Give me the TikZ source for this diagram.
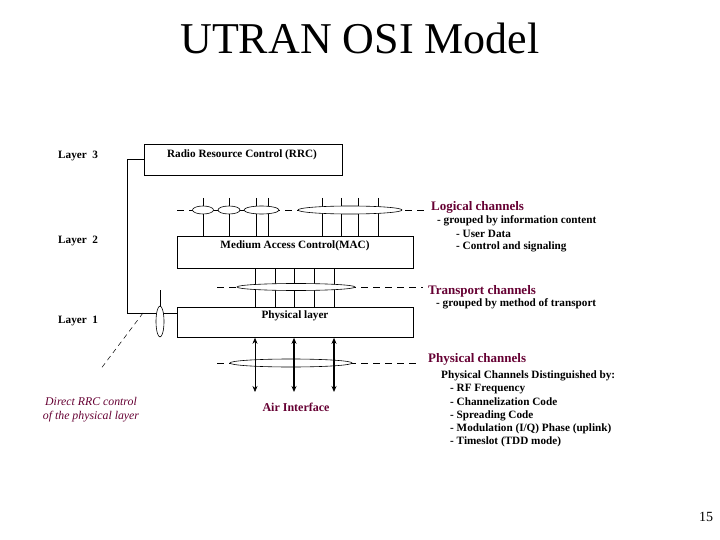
\documentclass[tikz,border=0pt]{standalone}
\usepackage{fontspec}
\setmainfont{Liberation Serif}
\usetikzlibrary{shapes.geometric,arrows.meta}
\definecolor{maroon}{RGB}{102,0,51}
\begin{document}
\begin{tikzpicture}[x=1pt,y=-1pt,
 box/.style={draw, line width=0.8pt, anchor=north west, inner sep=0pt},
 lbl/.style={font=\fontsize{11.2}{12}\selectfont\bfseries, inner sep=0pt, anchor=west},
 head/.style={font=\fontsize{13}{14}\selectfont\bfseries, text=maroon, inner sep=0pt, anchor=west},
 ell/.style={ellipse, draw, fill=white, inner sep=0pt, line width=0.6pt},
 ln/.style={line width=0.8pt},
 dsh/.style={dash pattern=on 7pt off 5pt, line width=0.6pt},
 arr/.style={{Stealth[length=6pt,width=5pt]}-{Stealth[length=6pt,width=5pt]}}]
\useasboundingbox (0,0) rectangle (720,540);
\fill[white] (0,0) rectangle (720,540);

% title
\node[font=\fontsize{44}{50}\selectfont, inner sep=0pt] (title) at (360,38) {UTRAN OSI Model};

% layer labels
\node[lbl] (l3) at (58,156) {Layer\ \ 3};
\node[lbl] (l2) at (58,241) {Layer\ \ 2};
\node[lbl] (l1) at (58,321) {Layer\ \ 1};

% boxes
\node[box, minimum width=198pt, minimum height=31pt] (rrc) at (144,144) {};
\node[lbl, anchor=center] (rrct) at (242,155) {Radio Resource Control (RRC)};
\node[box, minimum width=236pt, minimum height=32pt] (mac) at (177,236) {};
\node[lbl, anchor=center] (mact) at (295,246) {Medium Access Control(MAC)};
\node[box, minimum width=236pt, minimum height=30pt] (phy) at (177,307) {};
\node[lbl, anchor=center] (phyt) at (295,316) {Physical layer};

% RRC direct control line
\coordinate (corner) at (127,313);
\coordinate (phyin) at (177,313);
\draw[ln] (rrc.west) -| (corner) -- (phyin);
\coordinate (ctop) at (160,290);
\node[ell, minimum width=8pt, minimum height=31pt] (ce) at (160,321.5) {};
\draw[ln] (ctop) -- (ce.north);
\coordinate (dA) at (143,313);
\coordinate (dB) at (100,370);
\draw[dash pattern=on 5pt off 4pt, line width=0.5pt] (dA) -- (dB);

% logical channels
\coordinate (lgL) at (177,210);
\coordinate (lgR) at (427,210);
\draw[dsh] (lgL) -- (lgR);
\foreach \x in {203,229,256,268,322,341,358,378}{
  \coordinate (lt\x) at (\x,198);
  \draw[ln] (lt\x) -- (lt\x |- mac.north);
}
\node[ell, minimum width=21pt, minimum height=8pt] (e1) at (203,210) {};
\node[ell, minimum width=22pt, minimum height=8pt] (e2) at (229,210) {};
\node[ell, minimum width=35pt, minimum height=8pt] (e3) at (261.5,210) {};
\node[ell, minimum width=104pt, minimum height=8pt] (e4) at (350,210) {};

% transport channels
\coordinate (trL) at (217,287);
\coordinate (trR) at (423,287);
\draw[dsh] (trL) -- (trR);
\foreach \x in {255,275,294,314,334}{
  \coordinate (tt\x) at (\x,268);
  \draw[ln] (tt\x |- mac.south) -- (tt\x |- phy.north);
}
\node[ell, minimum width=118pt, minimum height=7pt] (et) at (296,287) {};

% physical channels
\coordinate (phL) at (217,363);
\coordinate (phR) at (420,363);
\draw[dsh] (phL) -- (phR);
\node[ell, minimum width=122pt, minimum height=8pt] (ep) at (291,363) {};
\coordinate (ab255) at (255,392);
\coordinate (ab294) at (294,392);
\coordinate (ab334) at (334,392);
\draw[arr, line width=0.6pt] (ab255 |- phy.south) -- (ab255);
\draw[arr, line width=1.3pt] (ab294 |- phy.south) -- (ab294);
\draw[arr, line width=1.3pt] (ab334 |- phy.south) -- (ab334);

% right-hand labels
\node[head] (lgh) at (431,207) {Logical channels};
\node[lbl] (lg1) at (437,221) {- grouped by information content};
\node[lbl] (lg2) at (456,233.5) {- User Data};
\node[lbl] (lg3) at (456,247) {- Control and signaling};

\node[head] (trh) at (428,291) {Transport channels};
\node[lbl] (tr1) at (436,304) {- grouped by method of transport};

\node[head] (phh) at (428,359) {Physical channels};
\node[lbl] (ph0) at (441,376) {Physical Channels Distinguished by:};
\node[lbl] (ph1) at (450,389) {- RF Frequency};
\node[lbl] (ph2) at (450,402) {- Channelization Code};
\node[lbl] (ph3) at (450,415.5) {- Spreading Code};
\node[lbl] (ph4) at (450,429) {- Modulation (I/Q) Phase (uplink)};
\node[lbl] (ph5) at (450,442) {- Timeslot (TDD mode)};

\node[font=\fontsize{12}{14}\selectfont\bfseries, text=maroon, inner sep=0pt] (air) at (296,407) {Air Interface};
\node[font=\fontsize{11.8}{14}\selectfont\itshape, text=maroon, align=center, inner sep=0pt] (direct) at (91,410) {Direct RRC control\\of the physical layer};

\node[font=\fontsize{14}{16}\selectfont, inner sep=0pt] (pg) at (706,517) {15};
\end{tikzpicture}
\end{document}
